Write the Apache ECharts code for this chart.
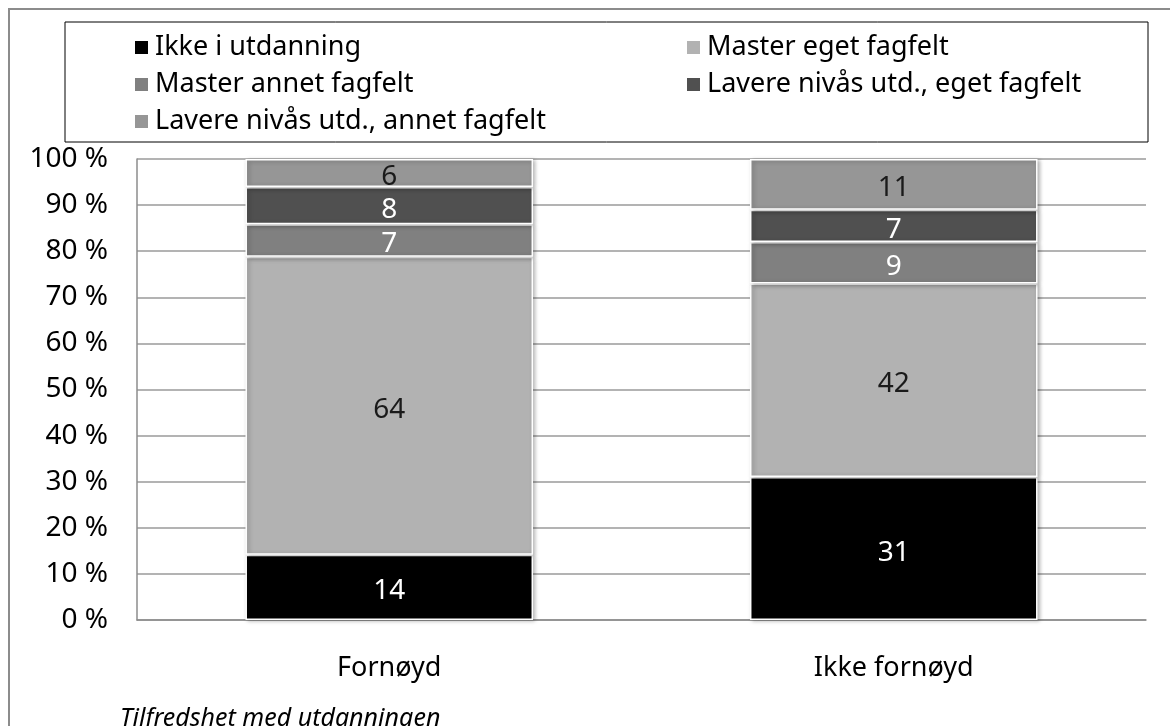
<!DOCTYPE html>
<html>
<head>
<meta charset="utf-8">
<script src="https://cdn.jsdelivr.net/npm/echarts@6/dist/echarts.min.js"></script>
<style>
  html, body { margin: 0; padding: 0; background: #fff; }
  #chartBox { width: 1170px; height: 726px; }
</style>
</head>
<body>
<div id="chartBox"></div>
<script>
// data
const categories = ["Fornøyd", "Ikke fornøyd"];
const seriesNames = [
  "Ikke i utdanning",
  "Master eget fagfelt",
  "Master annet fagfelt",
  "Lavere nivås utd., eget fagfelt",
  "Lavere nivås utd., annet fagfelt"
];
const ikkeIUtdanning = [14, 31];
const masterEget = [64, 42];
const masterAnnet = [7, 9];
const lavereEget = [8, 7];
const lavereAnnet = [6, 11];
const yTicks = [0, 10, 20, 30, 40, 50, 60, 70, 80, 90, 100];

const raw = [ikkeIUtdanning, masterEget, masterAnnet, lavereEget, lavereAnnet];
const colors = ["#000000", "#b2b2b2", "#808080", "#505050", "#969696"];
const labelColors = ["#ffffff", "#1a1a1a", "#ffffff", "#ffffff", "#1a1a1a"];

// 100 % stacked: each column scaled to its own total
const totals = categories.map((c, i) => raw.reduce((s, arr) => s + arr[i], 0));

const font = "'Noto Sans', sans-serif";
const chart = echarts.init(document.getElementById("chartBox"));

const option = {
  animation: false,
  textStyle: { fontFamily: font },
  title: {
    text: "Tilfredshet med utdanningen",
    left: 115,
    top: 701,
    textStyle: { fontSize: 25, fontStyle: "italic", fontWeight: "normal", color: "#000", fontFamily: font }
  },
  graphic: [
    {
      type: "rect",
      shape: { x: 9, y: 9, width: 1200, height: 760 },
      style: { fill: "none", stroke: "#8c8c8c", lineWidth: 2 },
      silent: true
    },
    {
      type: "rect",
      shape: { x: 65, y: 22, width: 1083, height: 120 },
      style: { fill: "none", stroke: "#000", lineWidth: 1 },
      silent: true
    }
  ],
  legend: [
    {
      orient: "vertical",
      left: 128,
      top: 29,
      itemGap: 10,
      itemWidth: 15,
      itemHeight: 15,
      icon: "rect",
      data: [seriesNames[0], seriesNames[2], seriesNames[4]],
      textStyle: { fontSize: 27, color: "#000", fontFamily: font, padding: [0, 0, 0, 1] }
    },
    {
      orient: "vertical",
      left: 680,
      top: 29,
      itemGap: 10,
      itemWidth: 15,
      itemHeight: 15,
      icon: "rect",
      data: [seriesNames[1], seriesNames[3]],
      textStyle: { fontSize: 27, color: "#000", fontFamily: font, padding: [0, 0, 0, 1] }
    }
  ],
  grid: {
    left: 137,
    right: 24,
    top: 159,
    bottom: 106
  },
  xAxis: {
    type: "category",
    data: categories,
    axisTick: { show: false },
    axisLine: { lineStyle: { color: "#8c8c8c", width: 1.5 } },
    axisLabel: { fontSize: 27, color: "#000", margin: 35, fontFamily: font }
  },
  yAxis: {
    type: "value",
    min: yTicks[0],
    max: yTicks[yTicks.length - 1],
    interval: 10,
    axisLine: { show: true, lineStyle: { color: "#8c8c8c", width: 1.5 } },
    axisTick: { show: false },
    axisLabel: { fontSize: 28, color: "#000", margin: 29, formatter: "{value} %", fontFamily: font },
    splitLine: { lineStyle: { color: "#9a9a9a", width: 1.5 } }
  },
  series: seriesNames.map((name, si) => ({
    name: name,
    type: "bar",
    stack: "total",
    barWidth: "57%",
    data: raw[si].map((v, ci) => v / totals[ci] * 100),
    itemStyle: {
      color: colors[si],
      borderColor: "#ffffff",
      borderWidth: 1.5,
      shadowColor: "rgba(0,0,0,0.3)",
      shadowBlur: 4,
      shadowOffsetX: 2,
      shadowOffsetY: 1
    },
    label: {
      show: true,
      position: "inside",
      fontSize: 28,
      color: labelColors[si],
      fontFamily: font,
      offset: [0, 4],
      formatter: p => String(raw[si][p.dataIndex])
    }
  }))
};

chart.setOption(option);
</script>
</body>
</html>
